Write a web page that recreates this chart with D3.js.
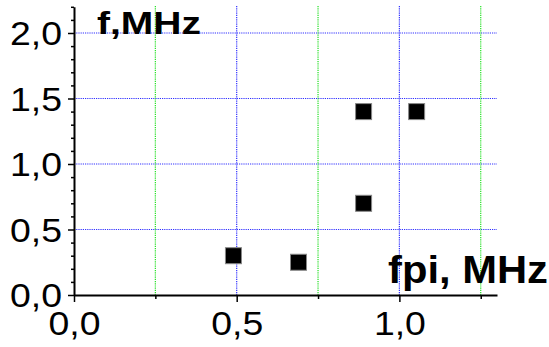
<!DOCTYPE html>
<html><head><meta charset="utf-8">
<script src="https://cdn.jsdelivr.net/npm/d3@7"></script>
<style>
html,body{margin:0;padding:0;background:#fff;}
svg{display:block;}
svg text{font-family:"Liberation Sans", Arial, Helvetica;}
</style></head>
<body>
<svg id="c" width="549" height="347"></svg>
<script>
// Data
const fpi = [0.49, 0.69, 0.89, 0.89, 1.053];
const f   = [0.30, 0.25, 0.70, 1.40, 1.40];
const xMajor = [0.0, 0.5, 1.0];
const xMinor = [0.25, 0.75, 1.25];
const yMajor = [0.0, 0.5, 1.0, 1.5, 2.0];
const yMinor = [0.1,0.2,0.3,0.4,0.6,0.7,0.8,0.9,1.1,1.2,1.3,1.4,1.6,1.7,1.8,1.9,2.1,2.2];
const xDomain = [0, 1.3];
const yDomain = [0, 2.2];
const yTitle = "f,MHz";
const xTitle = "fpi, MHz";

const FONT = '"Liberation Sans", Arial, Helvetica';
const svg = d3.select("#c");
const x = d3.scaleLinear().domain(xDomain).range([74, 497]);
const y = d3.scaleLinear().domain(yDomain).range([295, 6.8]);
const fmt = d => d3.format(".1f")(d).replace(".", ",");

// grid
const grid = svg.append("g");
grid.selectAll("line.hy").data(yMajor.filter(d=>d>0)).join("line")
  .attr("x1", x(0)).attr("x2", x(1.3)).attr("y1", d=>y(d)).attr("y2", d=>y(d))
  .attr("stroke","#3030ff").attr("stroke-width",1.2).attr("stroke-dasharray","1.2,1");
grid.selectAll("line.vb").data(xMajor.filter(d=>d>0)).join("line")
  .attr("x1", d=>x(d)).attr("x2", d=>x(d)).attr("y1", 6).attr("y2", y(0))
  .attr("stroke","#3030ff").attr("stroke-width",1.2).attr("stroke-dasharray","1.2,1");
grid.selectAll("line.vg").data(xMinor).join("line")
  .attr("x1", d=>x(d)).attr("x2", d=>x(d)).attr("y1", 6).attr("y2", y(0))
  .attr("stroke","#20e020").attr("stroke-width",1.2).attr("stroke-dasharray","1.2,1");

// axes
const tickFont = g => g.selectAll("text")
  .style("font-family", FONT)
  .attr("font-size", 32.5).attr("fill","#000")
  .attr("textLength", 52).attr("lengthAdjust","spacingAndGlyphs");

const yMin = svg.append("g").attr("transform",`translate(${x(0)},0)`)
  .call(d3.axisLeft(y).tickValues(yMinor).tickSize(3).tickSizeOuter(0).tickFormat(""));
yMin.select(".domain").remove();
const yAx = svg.append("g").attr("transform",`translate(${x(0)},0)`)
  .call(d3.axisLeft(y).tickValues(yMajor).tickSize(6).tickPadding(6).tickSizeOuter(0).tickFormat(fmt));
yAx.call(tickFont);
yAx.selectAll("text").attr("dy","0.36em");

const xMinG = svg.append("g").attr("transform",`translate(0,${y(0)})`)
  .call(d3.axisBottom(x).tickValues(xMinor).tickSize(4).tickSizeOuter(0).tickFormat(""));
xMinG.select(".domain").remove();
const xAx = svg.append("g").attr("transform",`translate(0,${y(0)})`)
  .call(d3.axisBottom(x).tickValues(xMajor).tickSize(7).tickPadding(10).tickSizeOuter(0).tickFormat(fmt));
xAx.call(tickFont);

svg.selectAll(".domain").attr("stroke","#000").attr("stroke-width",2);
svg.selectAll(".tick line").attr("stroke","#000").attr("stroke-width",1.5);

// points
svg.append("g").selectAll("rect").data(fpi.map((v,i)=>[v,f[i]])).join("rect")
  .attr("x", d=>x(d[0])-8).attr("y", d=>y(d[1])-8)
  .attr("width",16).attr("height",16)
  .attr("fill","#000").attr("stroke","#888").attr("stroke-width",1);

// titles
svg.append("text").attr("x",97).attr("y",33.5)
  .style("font-family", FONT).attr("font-weight","bold")
  .attr("font-size",32).attr("textLength",104).attr("lengthAdjust","spacingAndGlyphs")
  .text(yTitle);
svg.append("text").attr("x",388).attr("y",282.5)
  .style("font-family", FONT).attr("font-weight","bold")
  .attr("font-size",38.5).attr("textLength",160).attr("lengthAdjust","spacingAndGlyphs")
  .text(xTitle);
</script>
</body></html>
